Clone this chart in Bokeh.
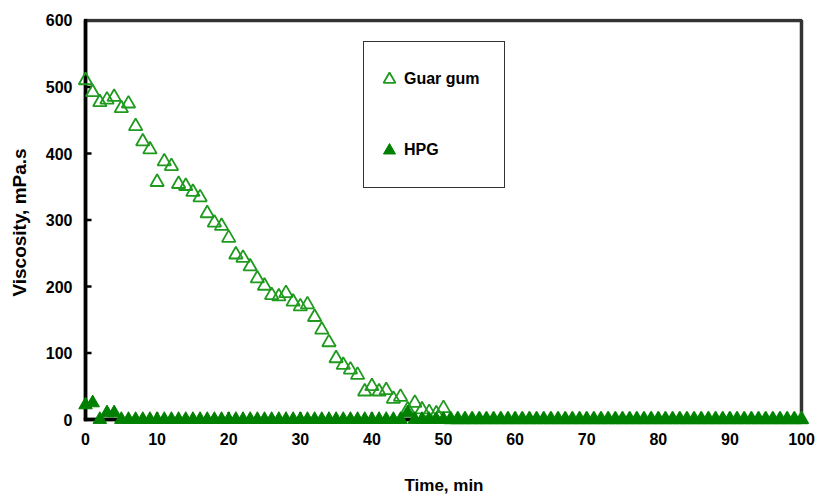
from bokeh.plotting import figure
from bokeh.models import (Range1d, FixedTicker, Legend, LegendItem,
                          BoxAnnotation, Arrow)
from bokeh.embed import file_html
from bokeh.resources import INLINE

# ---------------- data ----------------
time_min = list(range(0, 101))

guar_gum = [510, 492, 477, 481, 485, 468, 475, 441, 418, 406,
            357, 388, 381, 354, 351, 342, 334, 310, 296, 291,
            273, 248, 243, 230, 212, 201, 187, 185, 190, 177,
            170, 173, 154, 135, 116, 92, 82, 75, 67, 42,
            50, 42, 44, 31, 34, 15, 25, 15, 11, 9,
            17, 0, 0, 0, 0, 0, 0, 0, 0, 0,
            0, 0, 0, 0, 0, 0, 0, 0, 0, 0,
            0, 0, 0, 0, 0, 0, 0, 0, 0, 0,
            0, 0, 0, 0, 0, 0, 0, 0, 0, 0,
            0, 0, 0, 0, 0, 0, 0, 0, 0, 0,
            0]

hpg = [22, 25, 0, 10, 10, 0, 0, 0, 0, 0,
       0, 0, 0, 0, 0, 0, 0, 0, 0, 0,
       0, 0, 0, 0, 0, 0, 0, 0, 0, 0,
       0, 0, 0, 0, 0, 0, 0, 0, 0, 0,
       0, 0, 0, 0, 0, 10, 0, 0, 0, 0,
       0, 0, 0, 0, 0, 0, 0, 0, 0, 0,
       0, 0, 0, 0, 0, 0, 0, 0, 0, 0,
       0, 0, 0, 0, 0, 0, 0, 0, 0, 0,
       0, 0, 0, 0, 0, 0, 0, 0, 0, 0,
       0, 0, 0, 0, 0, 0, 0, 0, 0, 0,
       0]

x_ticks = [0, 10, 20, 30, 40, 50, 60, 70, 80, 90, 100]
y_ticks = [0, 100, 200, 300, 400, 500, 600]

series_names = ["Guar gum", "HPG"]
x_title = "Time, min"
y_title = "Viscosity, mPa.s"

# ---------------- figure ----------------
FONT = "Liberation Sans"

p = figure(width=818, height=497,
           x_range=Range1d(-0.84, 100.98), y_range=Range1d(-10.5, 603),
           output_backend="svg", toolbar_location=None,
           min_border_left=79, min_border_right=10,
           min_border_top=18, min_border_bottom=70)
p.background_fill_color = "white"
p.border_fill_color = "white"
p.outline_line_color = None
p.grid.visible = False

for ax, ticks, title in ((p.xaxis[0], x_ticks, x_title), (p.yaxis[0], y_ticks, y_title)):
    ax.ticker = FixedTicker(ticks=ticks)
    ax.axis_line_color = None
    ax.major_tick_line_color = None
    ax.minor_tick_line_color = None
    ax.major_tick_in = 0
    ax.major_tick_out = 0
    ax.major_label_text_font = FONT
    ax.major_label_text_font_style = "bold"
    ax.major_label_text_font_size = "16px"
    ax.major_label_text_color = "black"
    ax.axis_label = title
    ax.axis_label_text_font = FONT
    ax.axis_label_text_font_style = "bold"
    ax.axis_label_text_color = "black"

p.xaxis.axis_label_text_font_size = "17px"
p.yaxis.axis_label_text_font_size = "19px"
p.xaxis.major_label_standoff = 6
p.xaxis.axis_label_standoff = 28
p.yaxis.major_label_standoff = 7
p.yaxis.axis_label_standoff = 13

# frame: dark grey top/right, black left/bottom axes
p.add_layout(BoxAnnotation(left=x_ticks[0], right=x_ticks[-1],
                           bottom=y_ticks[0], top=y_ticks[-1],
                           fill_color=None, fill_alpha=0,
                           line_color="#333333", line_alpha=1, line_width=3.5))
p.add_layout(Arrow(end=None, x_start=x_ticks[0], y_start=y_ticks[0],
                   x_end=x_ticks[0], y_end=y_ticks[-1],
                   line_color="black", line_width=3.5, line_cap="square"))
p.add_layout(Arrow(end=None, x_start=x_ticks[0], y_start=y_ticks[0],
                   x_end=x_ticks[-1], y_end=y_ticks[0],
                   line_color="black", line_width=3.5, line_cap="square"))
# inward tick marks
for v in y_ticks[1:-1]:
    p.add_layout(Arrow(end=None, x_start=x_ticks[0], y_start=v,
                       x_end=x_ticks[0] + 0.84, y_end=v,
                       line_color="black", line_width=2.5))
for t in x_ticks[1:-1]:
    p.add_layout(Arrow(end=None, x_start=t, y_start=y_ticks[0],
                       x_end=t, y_end=y_ticks[0] + 11,
                       line_color="black", line_width=2.5))

r_guar = p.scatter(time_min, guar_gum, marker="triangle", size=13.5,
                   fill_color=None, line_color="#1f9a1f", line_width=1.8,
                   level="overlay")
r_hpg = p.scatter(time_min, hpg, marker="triangle", size=13.5,
                  fill_color="#008000", line_color="#008000", line_width=1,
                  level="overlay")

legend = Legend(items=[LegendItem(label=series_names[0], renderers=[r_guar]),
                       LegendItem(label=series_names[1], renderers=[r_hpg])],
                location=(284, 238), orientation="vertical",
                glyph_width=30, glyph_height=54, label_width=90,
                label_standoff=0, padding=10, spacing=17, margin=0,
                border_line_color="#333333", border_line_alpha=1,
                border_line_width=1.5,
                background_fill_color="white", background_fill_alpha=1,
                label_text_font=FONT, label_text_font_style="bold",
                label_text_font_size="16px", label_text_color="black")
p.add_layout(legend)

open("out.html", "w").write(file_html(p, INLINE))
